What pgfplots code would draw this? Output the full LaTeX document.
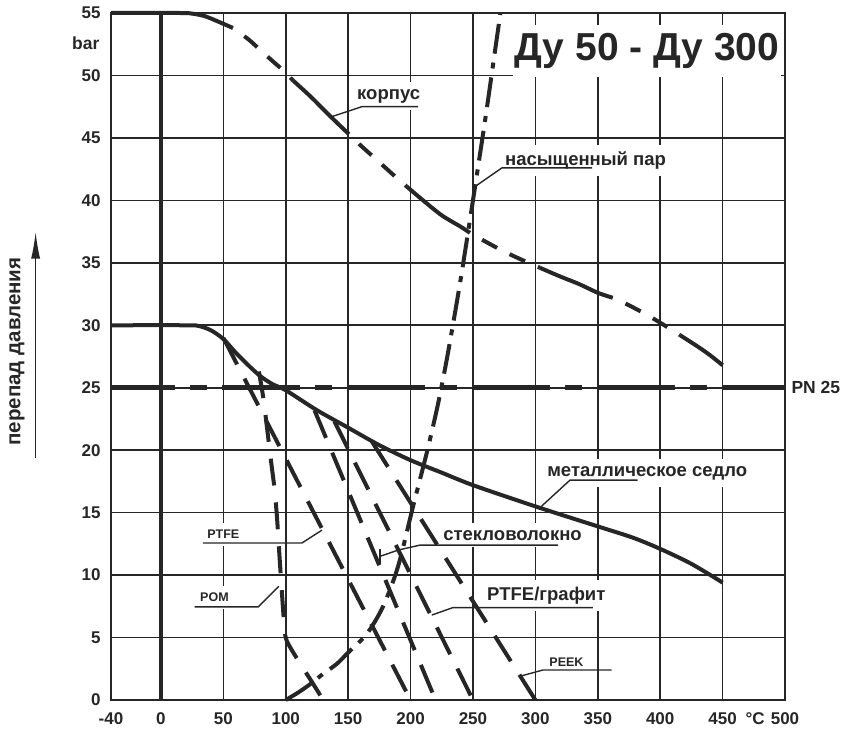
\documentclass[border=0pt]{standalone}
\usepackage{fontspec}
\setmainfont{Liberation Sans}
\usepackage{pgfplots}
\pgfplotsset{compat=1.18}
\usetikzlibrary{arrows.meta}
\definecolor{ink}{HTML}{262626}
\begin{document}
\begin{tikzpicture}[
  lab/.style={font=\bfseries\fontsize{18.5}{18.5}\selectfont, text=ink, fill=white, inner xsep=2pt, inner ysep=7pt, anchor=base west},
  slab/.style={font=\bfseries\fontsize{12.5}{12.5}\selectfont, text=ink, fill=white, inner xsep=2pt, inner ysep=7pt, anchor=base west},
  curve/.style={line width=4pt, color=ink},
]
\useasboundingbox (0,0) rectangle (845pt,737pt);
\begin{axis}[
  at={(111pt,37pt)}, anchor=south west,
  scale only axis, width=674pt, height=687pt,
  xmin=-40, xmax=500, ymin=0, ymax=55,
  xtick={-40,0,50,100,150,200,250,300,350,400,450,500},
  xticklabels={-40,0,50,100,150,200,250,300,350,400,450,500},
  ytick={0,5,10,15,20,25,30,35,40,45,50,55},
  grid=major,
  major grid style={line width=1.6pt, color=ink},
  axis line style={line width=1.8pt, color=ink},
  tick style={draw=none},
  ticklabel style={font=\bfseries\fontsize{17}{17}\selectfont, text=ink},
  /pgf/number format/assume math mode=true,
  yticklabel style={xshift=-7pt},
  xticklabel style={yshift=-9pt},
  clip=false,
]
% thick zero line
\draw[line width=3.5pt, ink] (axis cs:0,0) -- (axis cs:0,55);

% labels with white boxes
\node[font=\bfseries\fontsize{39}{39}\selectfont, text=ink, fill=white, inner xsep=2pt, inner ysep=8pt, anchor=base] at (axis cs:389.5,51.2) {Ду 50 - Ду 300};
\node[lab] at (axis cs:155.5,48.1) {корпус};
\node[lab] at (axis cs:274,42.8) {насыщенный пар};
\node[lab] at (axis cs:307.8,17.9) {металлическое седло};
\node[lab] at (axis cs:224.5,12.8) {стекловолокно};
\node[lab] at (axis cs:259.5,8.0) {PTFE/графит};
\node[slab] at (axis cs:309.5,2.7) {PEEK};
\node[slab] at (axis cs:35.4,12.9) {PTFE};
\node[slab] at (axis cs:29.7,7.85) {POM};

% underlines and leaders
\draw[line width=1.4pt, ink] (axis cs:206,47.5) -- (axis cs:161,47.5) -- (axis cs:136.8,46.7);
\draw[line width=1.4pt, ink] (axis cs:345.4,42.6) -- (axis cs:273.2,42.6) -- (axis cs:253,41.2);
\draw[line width=1.4pt, ink] (axis cs:382,17.6) -- (axis cs:327.7,17.6) -- (axis cs:303.7,15.4);
\draw[line width=1.4pt, ink] (axis cs:318,12.4) -- (axis cs:207.5,12.4) -- (axis cs:190,12.0) -- (axis cs:175.5,11.5);
\draw[line width=1.4pt, ink] (axis cs:175.5,10.9) -- (axis cs:175.5,12.1);
\draw[line width=1.4pt, ink] (axis cs:346,7.4) -- (axis cs:234,7.4) -- (axis cs:217,6.8);
\draw[line width=1.4pt, ink] (axis cs:361,2.4) -- (axis cs:306,2.4) -- (axis cs:287.7,1.9);
\draw[line width=1.4pt, ink] (axis cs:33.7,12.57) -- (axis cs:113,12.57) -- (axis cs:129,13.6);
\draw[line width=1.4pt, ink] (axis cs:27,7.45) -- (axis cs:78,7.45) -- (axis cs:94.5,9.1);

% PN 25
\addplot[line width=5pt, ink, dash pattern=on 78pt off 15pt on 17pt off 15pt, dash phase=14pt] coordinates {(-40,25)(500,25)};

% korpus (body)
\addplot[curve, smooth, tension=0.5] coordinates {(-40,55)(15,55)(25,54.95)(35,54.75)(45,54.35)(57.7,53.8)};
\addplot[curve, smooth, tension=0.5, dash pattern=on 17pt off 14pt, dash phase=17pt] coordinates {(57.7,53.8)(70,52.9)(80,52.0)(90,51.1)(98,50.4)(105.8,49.6)};
\addplot[curve, smooth, tension=0.5] coordinates {(105.8,49.6)(120,48.3)(135,46.8)(150.6,45.3)};
\addplot[curve, smooth, tension=0.5, dash pattern=on 17pt off 14pt, dash phase=17pt] coordinates {(150.6,45.3)(160,44.4)(170,43.5)(180,42.6)(190,41.7)(197,41.1)};
\addplot[curve, smooth, tension=0.5] coordinates {(197,41.1)(210,40.0)(225,38.8)(240,37.9)(247.6,37.4)};
\addplot[curve, smooth, tension=0.5, dash pattern=on 17pt off 14pt, dash phase=17pt] coordinates {(247.6,37.4)(260,36.7)(275,35.9)(290,35.2)(303.7,34.6)};
\addplot[curve, smooth, tension=0.5] coordinates {(303.7,34.6)(320,33.9)(335,33.3)(350,32.6)(362,32.2)};
\addplot[curve, smooth, tension=0.5, dash pattern=on 17pt off 14pt, dash phase=17pt] coordinates {(362,32.2)(375,31.6)(390,30.8)(405,29.9)(416,29.2)};
\addplot[curve, smooth, tension=0.5] coordinates {(416,29.2)(430,28.3)(440,27.6)(450,26.8)};

% metal seat
\addplot[curve, smooth, tension=0.5] coordinates {(-40,30)(20,30)(30,29.95)(40,29.6)(50,28.9)(60,27.8)(70,26.8)(80,25.9)(90,25.25)(100,24.8)(125,23.2)(150,21.8)(175,20.4)(200,19.2)(225,18.2)(250,17.2)(300,15.5)(350,13.9)(378,13.0)(400,12.1)(425,10.9)(450,9.4)};

% saturated steam
\addplot[curve, smooth, tension=0.5, dash pattern=on 30pt off 9pt on 6pt off 9pt] coordinates {(100,0)(110,0.6)(120,1.3)(130,2.1)(141,2.9)(150,3.8)(165,5.3)(178,7.5)(190,10.7)(202,15.5)(213,19.8)(222,23.7)(230,27.8)(240,33.6)(250,40.0)(260,46.6)(266,50.8)(272,55)};

% seal materials
\addplot[curve, dash pattern=on 30pt off 16pt] coordinates {(50,29)(200,0)};
\addplot[curve, dash pattern=on 30pt off 16pt] coordinates {(123,23.2)(220,0)};
\addplot[curve, dash pattern=on 30pt off 16pt] coordinates {(139,22.3)(250,0)};
\addplot[curve, dash pattern=on 30pt off 16pt] coordinates {(169,20.7)(300,0)};
\addplot[curve, smooth, tension=0.5, dash pattern=on 27pt off 17pt] coordinates {(78.5,26.3)(82,24.2)(85,21.8)(88,19.3)(91,16.9)(93,14.6)(95,11.5)(97,8.5)(99,5.8)(101,4.7)(111,3.0)(120,1.6)(130,0)};

% outside texts
\node[font=\bfseries\fontsize{17.5}{17.5}\selectfont, text=ink, anchor=west, xshift=3pt] at (axis cs:500,25) {PN 25};
\node[font=\bfseries\fontsize{17.5}{17.5}\selectfont, text=ink, anchor=east, xshift=-8pt] at (axis cs:-40,52.6) {bar};
\node[font=\bfseries\fontsize{17}{17}\selectfont, text=ink, anchor=north, yshift=-9pt] at (axis cs:476,0) {°C};
\node[rotate=90, font=\bfseries\fontsize{20.5}{20.5}\selectfont, text=ink] at (axis cs:-115.4,27.9) {перепад давления};
\draw[line width=1.5pt, ink, -{Latex[length=27pt,width=9pt]}] (axis cs:-100.4,19.4) -- (axis cs:-100.4,37.5);
\end{axis}
\end{tikzpicture}
\end{document}
